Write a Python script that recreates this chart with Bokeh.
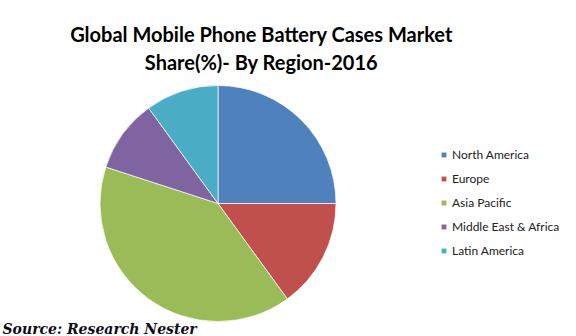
import math
from bokeh.plotting import figure
from bokeh.models import ColumnDataSource, Label, Legend, LegendItem
from bokeh.embed import file_html
from bokeh.resources import INLINE

regions = ["North America", "Europe", "Asia Pacific", "Middle East & Africa", "Latin America"]
shares = [25, 15, 40, 10, 10]
colors = ["#4F81BD", "#C0504D", "#9BBB59", "#8064A2", "#4BACC6"]
title_lines = ["Global Mobile Phone Battery Cases Market", "Share(%)- By Region-2016"]
source_text = "Source: Research Nester"

total = sum(shares)
starts, ends = [], []
cum = 0.0
for s in shares:
    a0 = math.pi / 2 - 2 * math.pi * cum / total
    cum += s
    a1 = math.pi / 2 - 2 * math.pi * cum / total
    starts.append(a1)
    ends.append(a0)

W, H = 576, 336
cx, cy, r = 217.5, H - 203, 118

src = ColumnDataSource(dict(region=regions, share=shares, color=colors,
                            start=starts, end=ends,
                            x=[cx] * len(shares), y=[cy] * len(shares)))

p = figure(width=W, height=H, x_range=(0, W), y_range=(0, H),
           output_backend="svg", toolbar_location=None, min_border=0)
p.axis.visible = False
p.grid.visible = False
p.outline_line_color = None
p.background_fill_color = "white"
p.border_fill_color = "white"

wr = p.wedge(x="x", y="y", radius=r, start_angle="start", end_angle="end",
             direction="anticlock", fill_color="color", line_color="white",
             line_width=1, line_alpha=0.7, source=src)

items = [LegendItem(label=regions[i], renderers=[wr], index=i) for i in range(len(regions))]
legend = Legend(items=items, location=(440, H - 262), orientation="vertical",
                background_fill_alpha=0, border_line_color=None,
                label_text_font="Lato", label_text_font_size="12px",
                label_text_color="#222222", label_height=24, label_standoff=5,
                glyph_width=7, glyph_height=7, spacing=0, padding=0, margin=0)
p.add_layout(legend, "center")

for i, t in enumerate(title_lines):
    p.add_layout(Label(x=261, y=H - 33 - i * 28, text=t, text_align="center",
                       text_baseline="alphabetic", text_font="Lato",
                       text_font_style="bold", text_font_size="20px",
                       text_color="#000000"))

p.add_layout(Label(x=2, y=H - 328, text=source_text, text_align="left",
                   text_baseline="alphabetic", text_font="DejaVu Serif",
                   text_font_style="bold italic", text_font_size="14px",
                   text_color="#0d0d1a"))

open("out.html", "w").write(file_html(p, INLINE))
